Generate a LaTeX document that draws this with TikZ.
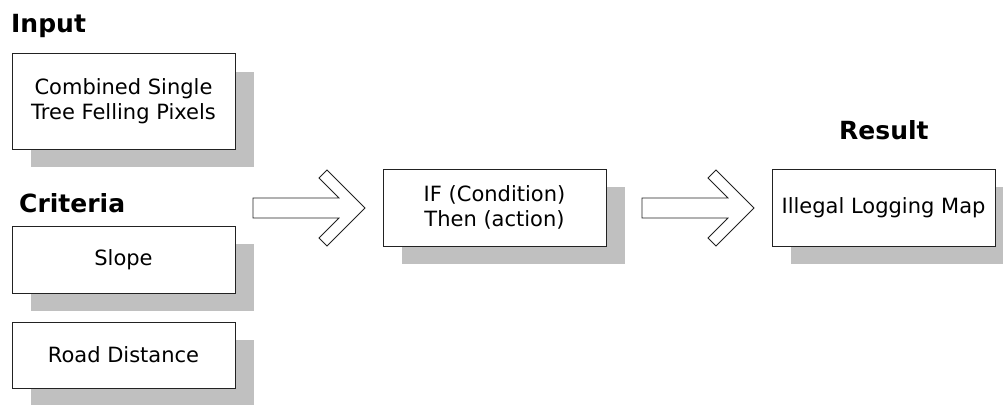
\documentclass[tikz,border=0pt]{standalone}
\usepackage{fontspec}
\setmainfont{DejaVu Sans}
\usetikzlibrary{shadows}
\definecolor{shadowgray}{HTML}{C0C0C0}
\definecolor{edgegray}{HTML}{222222}
\begin{document}
\begin{tikzpicture}[x=1pt,y=-1pt,
  box/.style={draw=edgegray, line width=1pt, fill=white, minimum width=223pt,
    align=center, font=\fontsize{21}{25}\selectfont, inner sep=0pt,
    drop shadow={shadow xshift=19pt, shadow yshift=-18pt, fill=shadowgray, opacity=1}},
  title/.style={anchor=base west, inner sep=0pt, font=\fontsize{25}{29}\selectfont\bfseries},
  bigarrow/.style={draw=edgegray, line width=0.8pt, fill=white, line join=miter}]
\useasboundingbox (0,0) rectangle (1003,404);
\node[title] (tin) at (11,33) {Input};
\node[title] (tcrit) at (19,212) {Criteria};
\node[title] (tres) at (839,139) {Result};
\node[box, minimum height=95pt] (in) at (123.5,101.5) {Combined Single\\Tree Felling Pixels};
\node[box, minimum height=67pt] (slope) at (123.5,259.5) {Slope};
\node[box, minimum height=66pt] (road) at (123.5,355) {Road Distance};
\node[box, minimum height=77pt] (rule) at (494.5,207.5) {IF (Condition)\\Then (action)};
\node[box, minimum height=77pt] (res) at (883.5,207.5) {Illegal Logging Map};
\coordinate (tipa) at (365,208);
\coordinate (tipb) at (754,208);
\foreach \t in {tipa,tipb}{
  \draw[bigarrow] (\t) -- ++(-38,-38) -- ++(-8,8) -- ++(20,20) -- ++(-86,0)
    -- ++(0,20) -- ++(86,0) -- ++(-20,20) -- ++(8,8) -- cycle;
}
\end{tikzpicture}
\end{document}
